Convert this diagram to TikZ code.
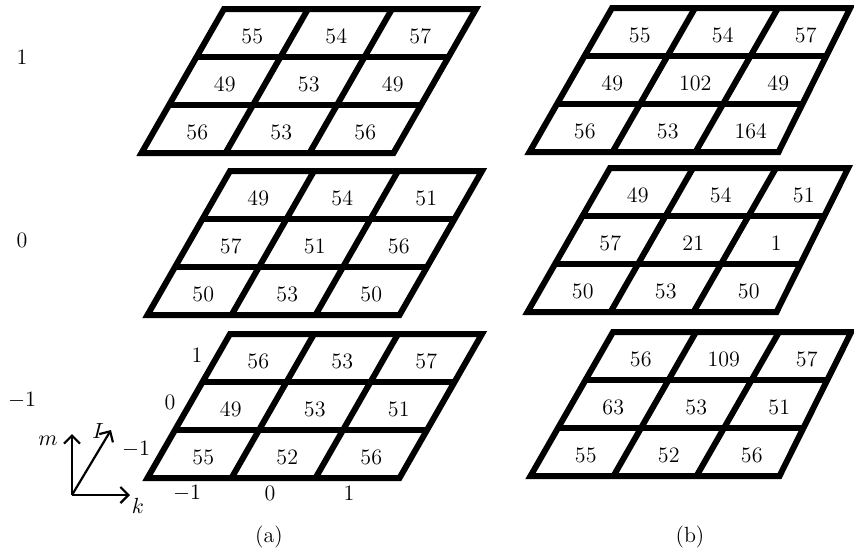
\documentclass[tikz,border=0pt]{standalone}
\usepackage{amsmath}
\usetikzlibrary{arrows.meta}

\begin{document}
\begin{tikzpicture}[x=0.5pt, y=-0.5pt, >={Straight Barb[length=4pt,width=8pt]},
  every node/.style={font=\fontsize{11}{13}\selectfont},
  gridline/.style={line width=3pt, line join=miter},
  cellval/.style={inner sep=0pt, yshift=-1.5pt},
  axisarrow/.style={->, line width=1.1pt}]
\useasboundingbox (0,0) rectangle (854,554);
\clip (0,0) rectangle (854,554);

% layers: corner x/corner y/cell width/right edge inset/name/values row by row
\foreach \xo/\yo/\cw/\rt/\nm/\vals in {
  224/9/84/0/a1/{55,54,57,49,53,49,56,53,56},
  230/171/84/0/a0/{49,54,51,57,51,56,50,53,50},
  230/334/84/0/am/{56,53,57,49,53,51,55,52,56},
  612/8/83/0.13/b1/{55,54,57,49,102,49,56,53,164},
  610/168/83/0.13/b0/{49,54,51,57,21,1,50,53,50},
  613/332/83/0.13/bm/{56,109,57,63,53,51,55,52,56}}
{
  \begin{scope}[shift={(\xo,\yo)}, x={(\cw*0.5pt,0pt)}, y={(-13.75pt,-24pt)}]
    \draw[gridline] (0,0) -- (3-\rt,0) -- (3,3) -- (0,3) -- cycle;
    \foreach \j in {1,2}
      \draw[gridline] (0,\j) -- ({3-\rt*(3-\j)/3},\j);
    \foreach \i in {1,2}
      \draw[gridline] (\i,0) -- (\i,3);
    \foreach \v [count=\n from 0] in \vals {
      \pgfmathtruncatemacro{\ci}{mod(\n,3)}
      \pgfmathtruncatemacro{\cj}{int(\n/3)}
      \node[cellval] (\nm-\ci-\cj) at (\ci+0.5,\cj+0.5) {\v};
    }
  \end{scope}
}

% layer index m
\node (mone)  at (22,57)  {1};
\node (mzero) at (22,240) {0};
\node (mneg)  at (22,400) {$-1$};

% index labels of the lowest layer
\node (lone)  at (197,355) {1};
\node (lzero) at (170,402) {0};
\node (lneg)  at (136,449) {$-1$};
\node (kneg)  at (187,493) {$-1$};
\node (kzero) at (270,493) {0};
\node (kone)  at (349,493) {1};

% axes
\coordinate (origin) at (72,495);
\coordinate (mtip) at (72,434);
\coordinate (ltip) at (111,430);
\coordinate (ktip) at (130,495);
\draw[axisarrow] (origin) -- (mtip);
\draw[axisarrow] (origin) -- (ltip);
\draw[axisarrow] (origin) -- (ktip);
\node (mlbl) at (48,441) {$m$};
\node (llbl) at (98,431) {$I$};
\node (klbl) at (138,506) {$k$};

\node (capa) at (269,537) {(a)};
\node (capb) at (690,537) {(b)};
\end{tikzpicture}
\end{document}
